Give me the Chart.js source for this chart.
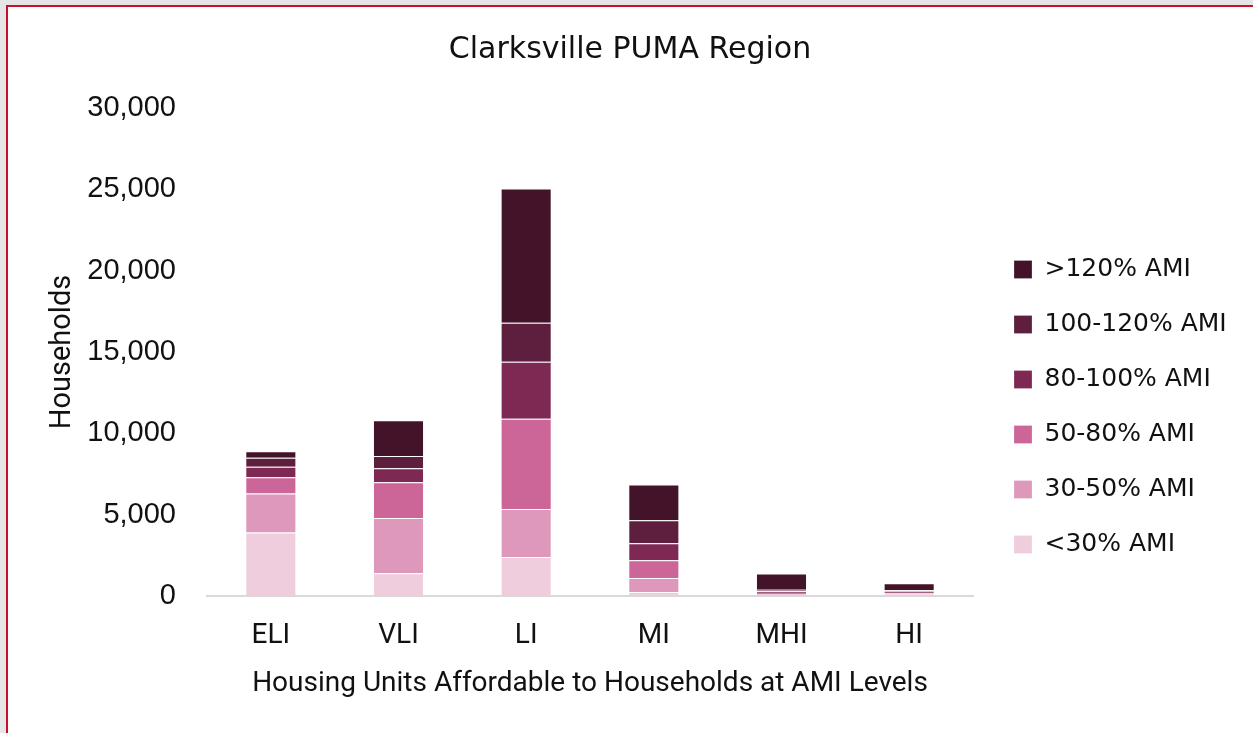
<!DOCTYPE html>
<html>
<head>
<meta charset="utf-8">
<script src="https://cdn.jsdelivr.net/npm/chart.js@4.4.1/dist/chart.umd.min.js"></script>
<style>
  html, body { margin: 0; padding: 0; background: #e6e6e6; overflow: hidden; }
  #frame {
    position: absolute; left: 6px; top: 5px; width: 1300px; height: 800px;
    background: #fff; border-left: 2px solid #c8102e; border-top: 2px solid #c8102e;
  }
  #wrap { position: absolute; left: 0; top: 0; width: 1253px; height: 733px; }
</style>
</head>
<body>
<div id="frame"></div>
<div id="wrap"><canvas id="chart"></canvas></div>
<script>
const categories = ['ELI', 'VLI', 'LI', 'MI', 'MHI', 'HI'];
const below30 = [3900, 1400, 2400, 250, 40, 40];
const ami30to50 = [2400, 3400, 2950, 850, 40, 50];
const ami50to80 = [1000, 2200, 5550, 1100, 60, 90];
const ami80to100 = [650, 850, 3500, 1050, 150, 90];
const ami100to120 = [550, 750, 2400, 1400, 100, 90];
const above120 = [400, 2200, 8250, 2200, 1000, 420];
const seriesNames = ['<30% AMI', '30-50% AMI', '50-80% AMI', '80-100% AMI', '100-120% AMI', '>120% AMI'];
const seriesColors = ['#efcddd', '#de98bb', '#cc6699', '#7e2854', '#5e1f3e', '#431429'];
const yTicks = [0, 5000, 10000, 15000, 20000, 25000, 30000];

const axisFont = "'Roboto', 'Noto Sans', sans-serif";
const wideFont = "'DejaVu Sans', 'Noto Sans', sans-serif";
Chart.defaults.color = '#111';

const seriesData = [below30, ami30to50, ami50to80, ami80to100, ami100to120, above120];
const datasets = seriesData.map((vals, i) => ({
  label: seriesNames[i],
  data: vals,
  backgroundColor: seriesColors[i],
  borderColor: 'rgba(255,255,255,0.22)',
  borderWidth: 1,
  borderSkipped: 'start',
  categoryPercentage: 1,
  barPercentage: 0.4
}));

// legend sits in a fixed box to the right, like the original
const legendPlace = {
  id: 'legendPlace',
  beforeInit(chart) {
    const fit = chart.legend.fit;
    chart.legend.fit = function () {
      fit.call(this);
      this.width = 280;
    };
  },
  afterLayout(chart) {
    const lg = chart.legend;
    lg.left = 984;
    lg.right = 1253;
    lg.top = 227;
  }
};

new Chart(document.getElementById('chart'), {
  type: 'bar',
  data: { labels: categories, datasets: datasets },
  plugins: [legendPlace],
  options: {
    responsive: true,
    maintainAspectRatio: false,
    animation: false,
    layout: { padding: { left: 7, right: 0, top: 0, bottom: 0 } },
    plugins: {
      title: {
        display: true,
        text: 'Clarksville PUMA Region',
        font: { family: wideFont, size: 30, weight: 'normal' },
        padding: { top: 32, bottom: 40 }
      },
      legend: {
        position: 'right',
        align: 'start',
        reverse: true,
        labels: {
          boxWidth: 18,
          boxHeight: 18,
          padding: 30,
          font: { family: wideFont, size: 25 }
        }
      },
      tooltip: { enabled: false }
    },
    scales: {
      x: {
        stacked: true,
        grid: { display: false, drawTicks: false },
        border: { display: true, color: '#d9d9d9', width: 2 },
        afterFit(axis) { axis.height = 137; },
        ticks: { padding: 23, font: { family: axisFont, size: 28 } },
        title: {
          display: true,
          text: 'Housing Units Affordable to Households at AMI Levels',
          font: { family: axisFont, size: 28 },
          padding: { top: 10, bottom: 32 }
        }
      },
      y: {
        stacked: true,
        min: 0,
        max: 30000,
        grid: { display: false, drawTicks: false },
        border: { display: false },
        afterFit(axis) { axis.width = 200; },
        afterBuildTicks(axis) {
          axis.ticks = yTicks.map(v => ({ value: v }));
        },
        ticks: {
          padding: 31,
          font: { family: "'Liberation Sans', Arial, sans-serif", size: 29 },
          callback: v => v.toLocaleString('en-US')
        },
        title: {
          display: true,
          text: 'Households',
          font: { family: axisFont, size: 29 },
          padding: { top: 38, bottom: 0 }
        }
      }
    }
  }
});
</script>
</body>
</html>
